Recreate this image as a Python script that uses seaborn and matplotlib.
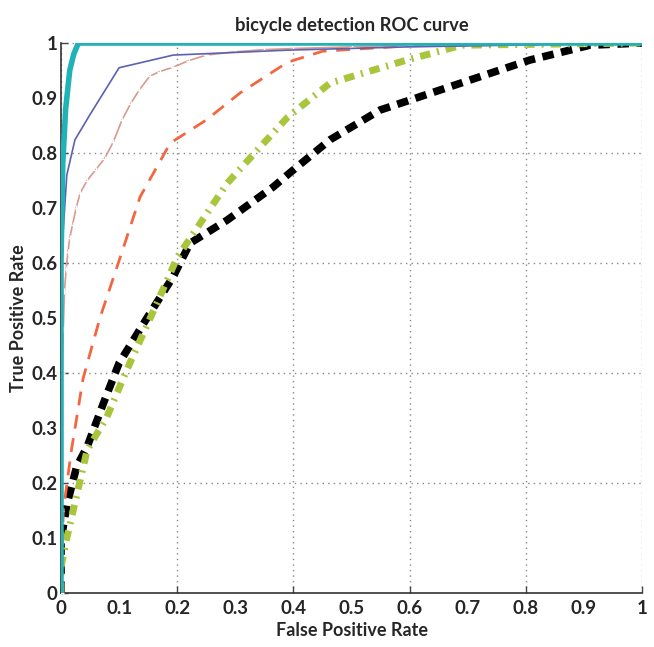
import numpy as np
import pandas as pd
import matplotlib
matplotlib.use('Agg')
import matplotlib.pyplot as plt
import seaborn as sns

# ROC points (false positive rate, true positive rate)
fpr_cyan = [0.0, 0.0, 0.003, 0.008, 0.015, 0.022, 0.03, 0.2, 0.5, 1.0]
tpr_cyan = [0.0, 0.6, 0.78, 0.88, 0.95, 0.98, 1.0, 1.0, 1.0, 1.0]

fpr_blue = [0.0, 0.0, 0.002, 0.01, 0.024, 0.05, 0.1, 0.193, 0.39, 0.6, 1.0]
tpr_blue = [0.0, 0.45, 0.63, 0.76, 0.824, 0.87, 0.955, 0.978, 0.987, 0.993, 1.0]

fpr_pink = [0.0, 0.0, 0.001, 0.002, 0.004, 0.006, 0.009, 0.012, 0.015, 0.02, 0.026,
            0.033, 0.045, 0.06, 0.075, 0.09, 0.105, 0.12, 0.135, 0.153, 0.17,
            0.193, 0.22, 0.25, 0.3, 0.35, 0.4, 0.5, 0.6, 0.7, 0.8, 0.9, 1.0]
tpr_pink = [0.0, 0.15, 0.28, 0.4, 0.48, 0.55, 0.59, 0.62, 0.645, 0.67, 0.7,
            0.727, 0.75, 0.77, 0.79, 0.82, 0.86, 0.89, 0.915, 0.94, 0.948,
            0.956, 0.968, 0.978, 0.984, 0.988, 0.99, 0.993, 0.996, 0.998, 1.0, 1.0, 1.0]

fpr_red = [0.0, 0.004, 0.018, 0.038, 0.067, 0.105, 0.136, 0.188, 0.25, 0.308, 0.39, 0.45, 0.6, 1.0]
tpr_red = [0.0, 0.15, 0.26, 0.39, 0.5, 0.62, 0.72, 0.818, 0.86, 0.909, 0.965, 0.985, 0.995, 1.0]

fpr_green = [0.0, 0.0, 0.01, 0.045, 0.079, 0.113, 0.16, 0.2, 0.286, 0.342, 0.39, 0.463, 0.595, 0.69, 1.0]
tpr_green = [0.0, 0.047, 0.1, 0.26, 0.32, 0.405, 0.515, 0.61, 0.745, 0.81, 0.865, 0.927, 0.969, 0.996, 1.0]

fpr_black = [0.0, 0.0, 0.01, 0.027, 0.045, 0.073, 0.1, 0.148, 0.193, 0.222, 0.286, 0.365,
             0.394, 0.463, 0.549, 0.6, 0.807, 0.91, 1.0]
tpr_black = [0.0, 0.096, 0.16, 0.23, 0.266, 0.345, 0.418, 0.5, 0.575, 0.636, 0.678, 0.738,
             0.764, 0.824, 0.878, 0.896, 0.969, 0.996, 1.0]

x_ticks = [0, 0.1, 0.2, 0.3, 0.4, 0.5, 0.6, 0.7, 0.8, 0.9, 1]
x_ticklabels = ['0', '0.1', '0.2', '0.3', '0.4', '0.5', '0.6', '0.7', '0.8', '0.9', '1']

sns.set_style('white')
plt.rcParams['font.family'] = ['Lato', 'DejaVu Sans']

fig = plt.figure(figsize=(6.54, 6.47), dpi=100)
ax = fig.add_axes([61 / 654, 1 - 593 / 647, 581 / 654, 550 / 647])

def draw(fx, ty, **kw):
    df = pd.DataFrame({'fpr': fx, 'tpr': ty})
    sns.lineplot(data=df, x='fpr', y='tpr', sort=False, estimator=None, ax=ax, **kw)

draw(fpr_black, tpr_black, color='black', lw=5.5, dashes=(1.5, 1.0), zorder=3)
draw(fpr_green, tpr_green, color='#a9c53c', lw=5, dashes=(1.5, 1.0, 0.3, 1.0), zorder=4)
draw(fpr_red, tpr_red, color='#f2673f', lw=2, dashes=(5, 3.5), zorder=5)
draw(fpr_pink, tpr_pink, color='#d99a8c', lw=1.2, marker='+', markersize=5,
     markeredgewidth=0.9, zorder=6)
draw(fpr_blue, tpr_blue, color='#5a62b3', lw=1.2, zorder=7)
draw(fpr_cyan, tpr_cyan, color='#1fb3b8', lw=4, zorder=8)

ax.set_xlim(0, 1)
ax.set_ylim(0, 1)
ax.set_xticks(x_ticks)
ax.set_xticklabels(x_ticklabels)
ax.set_yticks(x_ticks)
ax.set_yticklabels(x_ticklabels)
ax.xaxis.remove_overlapping_locs = False
ax.yaxis.remove_overlapping_locs = False
ax.set_xticks(np.arange(0, 1.01, 0.2), minor=True)
ax.set_yticks(np.arange(0, 1.01, 0.2), minor=True)
ax.tick_params(which='major', length=0, labelsize=13.5)
ax.tick_params(axis='y', which='major', pad=2.5)
ax.tick_params(axis='x', which='major', pad=5)
ax.tick_params(which='minor', length=5, direction='in', color='#444444', width=1,
               bottom=True, left=True)
ax.grid(False, which='major')
ax.grid(True, which='minor', linestyle=(0, (1, 3)), color='#888888', lw=1)
for lab in ax.get_xticklabels() + ax.get_yticklabels():
    lab.set_fontweight('bold')

for s in ['top', 'right']:
    ax.spines[s].set_visible(False)
for s in ['left', 'bottom']:
    ax.spines[s].set_color('#333333')
    ax.spines[s].set_linewidth(1.2)

ax.set_xlabel('False Positive Rate', fontsize=13, fontweight='bold', labelpad=4)
ax.set_ylabel('True Positive Rate', fontsize=13, fontweight='bold')
ax.yaxis.set_label_coords(-0.058, 0.5)
ax.set_title('bicycle detection ROC curve', fontsize=13.2, fontweight='bold', pad=9)

fig.savefig('out.png', dpi=100)
